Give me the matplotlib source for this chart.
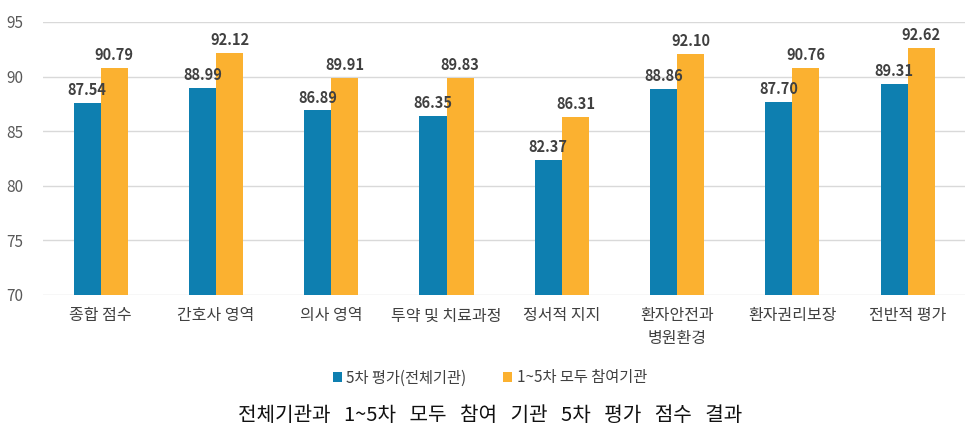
import numpy as np
import matplotlib
matplotlib.use("Agg")
from matplotlib import pyplot as plt

plt.rcParams['font.family'] = ['Noto Sans CJK KR', 'DejaVu Sans']

# categories
cats = ['종합 점수', '간호사 영역', '의사 영역', '투약 및 치료과정', '정서적 지지',
        '환자안전과\n병원환경', '환자권리보장', '전반적 평가']
# 5차 평가 (전체기관)
all_inst = [87.54, 88.99, 86.89, 86.35, 82.37, 88.86, 87.70, 89.31]
# 1~5차 모두 참여기관
all_rounds = [90.79, 92.12, 89.91, 89.83, 86.31, 92.10, 90.76, 92.62]
yticks = [70, 75, 80, 85, 90, 95]

blue = '#0E7FB0'
orange = '#FBB130'
grey = '#595959'

fig = plt.figure(figsize=(9.8, 4.38), dpi=100)
ax = fig.add_axes([0.044, 0.3265, 0.941, 0.6235])

x = np.arange(len(cats))
w = 0.235
b1 = ax.bar(x - w / 2, all_inst, w, color=blue, label='5차 평가(전체기관)', zorder=3)
b2 = ax.bar(x + w / 2, all_rounds, w, color=orange, label='1~5차 모두 참여기관', zorder=3)

for bars in (b1, b2):
    for r in bars:
        ax.text(r.get_x() + r.get_width() / 2, r.get_height() + 0.45,
                f'{r.get_height():.2f}', ha='center', va='bottom',
                fontsize=10.5, fontweight='bold', color='#404040')

ax.set_ylim(70, 95)
ax.set_xlim(-0.5, len(cats) - 0.5)
ax.set_yticks(yticks)
ax.set_yticklabels([str(v) for v in yticks], fontsize=11, color=grey)
ax.set_xticks(x)
ax.set_xticklabels(cats, fontsize=11.5, color='#404040', linespacing=1.45)
ax.yaxis.grid(True, color='#d9d9d9', linewidth=1, zorder=0)
for s in ax.spines.values():
    s.set_visible(False)
ax.tick_params(axis='x', length=0, pad=9)
ax.tick_params(axis='y', length=0, pad=14)

fig.legend(loc='center', bbox_to_anchor=(0.5, 0.137), ncol=2, frameon=False,
           fontsize=11, handlelength=0.6, handleheight=0.6, handletextpad=0.3,
           columnspacing=2.4, labelcolor='#404040')

title = '   '.join(['전체기관과', '1~5차', '모두', '참여', '기관', '5차', '평가', '점수', '결과'])
fig.text(0.5, 0.052, title, ha='center', va='center', fontsize=14.5, color='#111111')

fig.savefig('out.png', dpi=100)
